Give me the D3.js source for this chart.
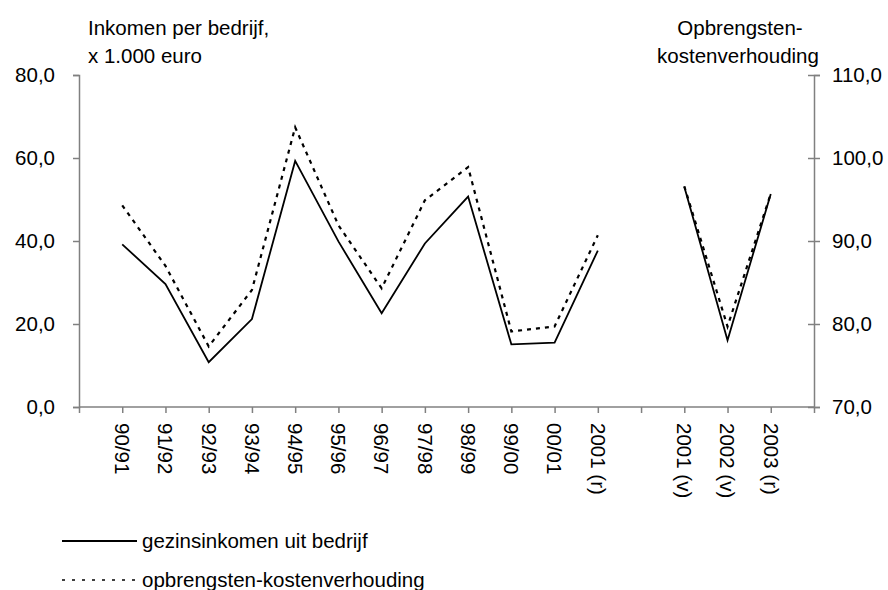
<!DOCTYPE html>
<html>
<head>
<meta charset="utf-8">
<script src="https://cdn.jsdelivr.net/npm/d3@7"></script>
<style>
  body { margin: 0; background: #fff; }
  svg { font-family: "Liberation Sans", Arial, sans-serif; }
</style>
</head>
<body>
<svg id="chart" width="888" height="590"></svg>
<script>
// categories, null marks the empty slot between the two periods
const categories = ['90/91', '91/92', '92/93', '93/94', '94/95', '95/96', '96/97', '97/98',
  '98/99', '99/00', '00/01', '2001 (r)', null, '2001 (v)', '2002 (v)', '2003 (r)'];
const inkomen = [39.2, 29.6, 10.8, 21.2, 59.3, 39.9, 22.6, 39.4, 50.7, 15.1, 15.5, 37.7,
  null, 53.1, 16.1, 51.3];
const verhouding = [94.3, 87.0, 77.3, 84.1, 103.7, 91.9, 84.3, 94.9, 98.9, 79.1, 79.7, 90.7,
  null, 96.6, 79.7, 95.7];
const leftTicks = [0, 20, 40, 60, 80];
const rightTicks = [70, 80, 90, 100, 110];

const svg = d3.select('#chart');
const fmt = v => d3.format('.1f')(v).replace('.', ',');
const fs = '20.5px';

const plotLeft = 79, plotRight = 814, plotTop = 75, plotBottom = 407;

// index 0 is the axis origin, points sit on ticks 1..16
const x = d3.scaleLinear().domain([0, categories.length + 1]).range([plotLeft, plotRight]);
const yL = d3.scaleLinear().domain([0, 80]).range([plotBottom, plotTop]);
const yR = d3.scaleLinear().domain([70, 110]).range([plotBottom, plotTop]);

const axisColor = '#808080';

// left axis
const gL = svg.append('g').attr('transform', `translate(${plotLeft},0)`)
  .call(d3.axisLeft(yL).tickValues(leftTicks).tickFormat(fmt).tickSize(6).tickPadding(18));
// right axis with crossing ticks
const gR = svg.append('g').attr('transform', `translate(${plotRight},0)`)
  .call(d3.axisRight(yR).tickValues(rightTicks).tickFormat(fmt).tickSize(6).tickPadding(12));
gR.selectAll('.tick line').attr('x1', -6);
// bottom axis
const gB = svg.append('g').attr('transform', `translate(0,${plotBottom})`)
  .call(d3.axisBottom(x).tickValues(d3.range(0, categories.length + 2)).tickFormat('').tickSize(6));

[gL, gR, gB].forEach(g => {
  g.select('.domain').attr('stroke', axisColor).attr('stroke-width', 1.5);
  g.selectAll('.tick line').attr('stroke', axisColor).attr('stroke-width', 1.5);
  g.selectAll('.tick text').attr('fill', '#000').style('font-size', fs);
});
gB.select('.domain').attr('d', `M${plotLeft},0H${plotRight}`);

// rotated category labels
svg.append('g').selectAll('text')
  .data(categories.map((c, i) => ({ c, i })).filter(d => d.c))
  .join('text')
  .attr('transform', d => `translate(${x(d.i + 1)},423) rotate(90)`)
  .attr('dy', '0.35em')
  .style('font-size', fs)
  .text(d => d.c);

// series lines
const lineL = d3.line().defined(d => d[1] != null).x(d => x(d[0] + 1)).y(d => yL(d[1]));
const lineR = d3.line().defined(d => d[1] != null).x(d => x(d[0] + 1)).y(d => yR(d[1]));

svg.append('path')
  .attr('d', lineR(verhouding.map((v, i) => [i, v])))
  .attr('fill', 'none').attr('stroke', '#000').attr('stroke-width', 2.2)
  .attr('stroke-dasharray', '4,5');

svg.append('path')
  .attr('d', lineL(inkomen.map((v, i) => [i, v])))
  .attr('fill', 'none').attr('stroke', '#000').attr('stroke-width', 1.8);

// axis titles
const titleL = svg.append('text').attr('y', 35).style('font-size', fs);
titleL.append('tspan').attr('x', 88).text('Inkomen per bedrijf,');
titleL.append('tspan').attr('x', 88).attr('dy', 28).text('x 1.000 euro');

const titleR = svg.append('text').attr('y', 35)
  .attr('text-anchor', 'middle').style('font-size', fs);
titleR.append('tspan').attr('x', 740).text('Opbrengsten-');
titleR.append('tspan').attr('x', 738).attr('dy', 28).text('kostenverhouding');

// legend
const legend = [
  { label: 'gezinsinkomen uit bedrijf', dash: null, width: 1.8 },
  { label: 'opbrengsten-kostenverhouding', dash: '3,7', width: 1.6 }
];
const lg = svg.append('g').selectAll('g').data(legend).join('g')
  .attr('transform', (d, i) => `translate(62,${541 + i * 39})`);
lg.append('line').attr('x1', 0).attr('x2', 75)
  .attr('stroke', '#000').attr('stroke-width', d => d.width)
  .attr('stroke-dasharray', d => d.dash);
lg.append('text').attr('x', 80).attr('dy', '0.35em').style('font-size', fs)
  .text(d => d.label);
</script>
</body>
</html>
